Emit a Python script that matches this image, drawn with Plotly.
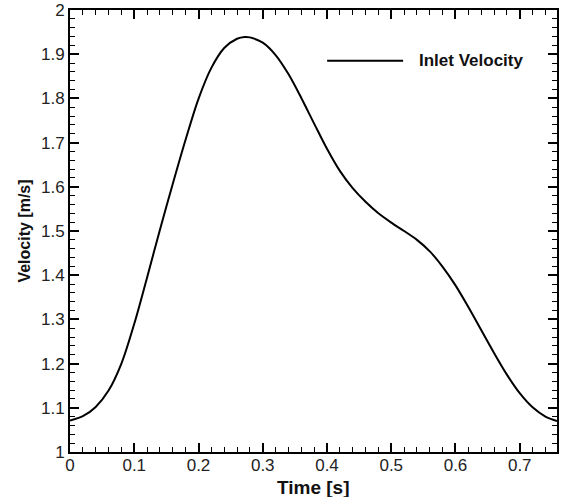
import plotly.graph_objects as go

# Inlet velocity waveform
time_s = [0.000, 0.020, 0.040, 0.060, 0.080, 0.100, 0.120, 0.140, 0.160, 0.180,
          0.200, 0.220, 0.240, 0.260, 0.272, 0.280, 0.300, 0.320, 0.340, 0.360,
          0.380, 0.400, 0.420, 0.440, 0.460, 0.480, 0.500, 0.520, 0.540, 0.560,
          0.580, 0.600, 0.620, 0.640, 0.660, 0.680, 0.700, 0.720, 0.740, 0.758]
velocity = [1.071, 1.081, 1.102, 1.139, 1.200, 1.290, 1.395, 1.503, 1.607, 1.707,
            1.799, 1.869, 1.914, 1.935, 1.939, 1.938, 1.926, 1.898, 1.855, 1.801,
            1.743, 1.686, 1.636, 1.597, 1.566, 1.540, 1.519, 1.500, 1.480, 1.454,
            1.419, 1.377, 1.328, 1.276, 1.224, 1.175, 1.133, 1.101, 1.080, 1.070]

series_name = "Inlet Velocity"
x_title = "Time [s]"
y_title = "Velocity [m/s]"
x_ticks = [0, 0.1, 0.2, 0.3, 0.4, 0.5, 0.6, 0.7]
x_ticklabels = ["0", "0.1", "0.2", "0.3", "0.4", "0.5", "0.6", "0.7"]
y_ticks = [1, 1.1, 1.2, 1.3, 1.4, 1.5, 1.6, 1.7, 1.8, 1.9, 2]
y_ticklabels = ["1", "1.1", "1.2", "1.3", "1.4", "1.5", "1.6", "1.7", "1.8", "1.9", "2"]

FONT = "Liberation Sans, Arial, sans-serif"

fig = go.Figure()
fig.add_trace(go.Scatter(
    x=time_s, y=velocity, mode="lines", name=series_name,
    line=dict(color="black", width=2, shape="spline", smoothing=0.9),
    showlegend=False,
))

axis_common = dict(
    showline=True, linecolor="black", linewidth=2, mirror="allticks",
    ticks="inside", ticklen=9, tickwidth=2, tickcolor="black",
    showgrid=False, zeroline=False, automargin=False,
    tickfont=dict(family=FONT, size=17, color="#222"),
)

fig.update_xaxes(
    range=[0, 0.758], tickvals=x_ticks, ticktext=x_ticklabels,
    minor=dict(dtick=0.02, ticks="inside", ticklen=5, tickwidth=1, tickcolor="black"),
    ticklabelstandoff=-3,
    **axis_common,
)
fig.update_yaxes(
    range=[1, 2], tickvals=y_ticks, ticktext=y_ticklabels,
    minor=dict(dtick=0.02, ticks="inside", ticklen=5, tickwidth=1, tickcolor="black"),
    title=dict(text="<b>%s</b>" % y_title, font=dict(family=FONT, size=16, color="#111"), standoff=6),
    **axis_common,
)

# x-axis title placed under the tick labels
fig.add_annotation(xref="paper", yref="paper", x=0.5, y=-0.081,
                   xanchor="center", yanchor="middle", showarrow=False,
                   text="<b>%s</b>" % x_title,
                   font=dict(family=FONT, size=19, color="#111"))

# legend sample (line + label) in the upper right of the plot area
fig.add_shape(type="line", xref="paper", yref="paper",
              x0=0.528, x1=0.684, y0=0.885, y1=0.885,
              line=dict(color="black", width=2))
fig.add_annotation(xref="paper", yref="paper", x=0.712, y=0.885,
                   xanchor="left", yanchor="middle", showarrow=False,
                   text="<b>%s</b>" % series_name,
                   font=dict(family=FONT, size=17, color="#111"))

fig.update_layout(
    width=561, height=497,
    margin=dict(l=70, r=4, t=10, b=45),
    paper_bgcolor="white", plot_bgcolor="white",
)

fig.write_html("out.html",
               config={"displayModeBar": False},
               post_script="document.body.style.margin='0';document.body.style.overflow='hidden';")
